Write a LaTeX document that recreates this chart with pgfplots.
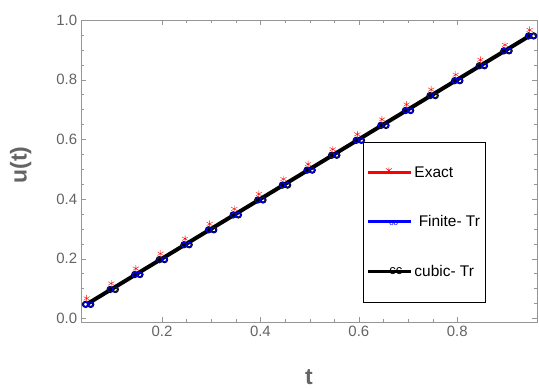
\documentclass[border=0pt]{standalone}
\usepackage{fontspec}
\setmainfont{Liberation Sans}
\usepackage{pgfplots}
\pgfplotsset{compat=1.18}
\definecolor{axgray}{RGB}{100,100,100}
\definecolor{framegray}{RGB}{150,150,150}
\pgfplotstableread{
t u
0.05 0.05
0.10 0.10
0.15 0.15
0.20 0.20
0.25 0.25
0.30 0.30
0.35 0.35
0.40 0.40
0.45 0.45
0.50 0.50
0.55 0.55
0.60 0.60
0.65 0.65
0.70 0.70
0.75 0.75
0.80 0.80
0.85 0.85
0.90 0.90
0.95 0.95
}\data
\begin{document}
\begin{tikzpicture}
\begin{axis}[
  scale only axis, width=456bp, height=302bp,
  xmin=0.035, xmax=0.962, ymin=-0.013, ymax=1.0,
  xtick={0.2,0.4,0.6,0.8}, ytick={0,0.2,...,1.0},
  minor x tick num=3, minor y tick num=3,
  xticklabel style={/pgf/number format/.cd,fixed,fixed zerofill,precision=1},
  yticklabel style={/pgf/number format/.cd,fixed,fixed zerofill,precision=1},
  /pgf/number format/assume math mode=true,
  ticklabel style={font=\fontsize{15}{17}\selectfont, text=axgray},
  axis line style={framegray}, tick style={framegray},
  major tick length=5bp, minor tick length=3bp,
  tick align=inside,
  xlabel={\textbf{t}}, ylabel={\textbf{u(t)}},
  label style={font=\fontsize{23}{26}\selectfont, text=axgray},
  xlabel style={at={(axis description cs:0.5,0)}, anchor=center, yshift=-55bp},
  ylabel style={at={(axis description cs:0,0.52)}, anchor=center, yshift=60bp},
  legend style={at={(0.619,0.596)}, anchor=north west, draw=black, line width=0.6pt,
    font=\fontsize{15.5}{17}\selectfont, row sep=33bp, inner ysep=22bp, inner xsep=3bp,
    /tikz/every even column/.append style={column sep=2bp}},
  legend cell align=left,
]
\addplot[black, line width=4pt, no marks, forget plot] table[x=t,y=u] {\data};
\addplot[only marks, mark=o, mark size=2.6bp, black, line width=2pt, forget plot, every mark/.append style={xshift=-2.6bp, yshift=-1bp}] table[x=t,y=u] {\data};
\addplot[only marks, mark=o, mark size=2.6bp, black, line width=2pt, forget plot, every mark/.append style={xshift=2.6bp, yshift=-1bp}] table[x=t,y=u] {\data};
\addplot[only marks, mark=o, mark size=2.6bp, blue, line width=0.9pt, forget plot, every mark/.append style={xshift=-2.6bp, yshift=-1bp}] table[x=t,y=u] {\data};
\addplot[only marks, mark=o, mark size=2.6bp, blue, line width=0.9pt, forget plot, every mark/.append style={xshift=2.6bp, yshift=-1bp}] table[x=t,y=u] {\data};
\addplot[only marks, mark=asterisk, mark size=3.5pt, red, forget plot, every mark/.append style={yshift=5pt, xshift=-1.5pt}] table[x=t,y=u] {\data};
\addlegendimage{legend image code/.code={\draw[red, line width=3pt] (0,0)--(43bp,0); \draw[red, line width=0.5pt] (21bp,0)+(0,5bp) -- +(0,-1bp) (21bp,2bp)+(-3bp,-2bp)--+(3bp,2bp) (21bp,2bp)+(-3bp,2bp)--+(3bp,-2bp);}}
\addlegendentry{Exact}
\addlegendimage{legend image code/.code={\draw[blue, line width=3pt] (0,0)--(43bp,0); \node[blue, font=\fontsize{8}{8}\selectfont, inner sep=0pt] at (21bp,-2bp) {oo};}}
\addlegendentry{\ Finite- Tr}
\addlegendimage{legend image code/.code={\draw[black, line width=3pt] (0,0)--(43bp,0); \node[black, font=\fontsize{13}{13}\selectfont, inner sep=0pt] at (21bp,0pt) {cc};}}
\addlegendentry{cubic- Tr}
\end{axis}
\path (current axis.south west) ++(-80.7bp,-66bp) coordinate (bbA);
\path (current axis.north east) ++(2bp,20bp) coordinate (bbB);
\pgfresetboundingbox
\path[use as bounding box] (bbA) rectangle (bbB);
\end{tikzpicture}
\end{document}
